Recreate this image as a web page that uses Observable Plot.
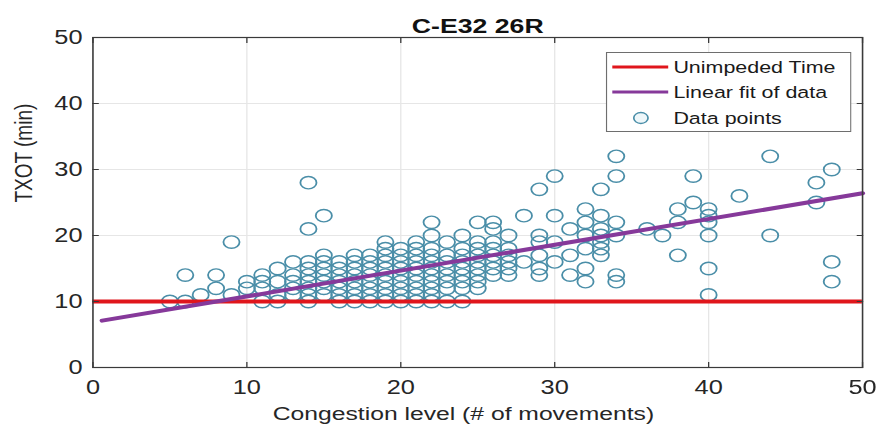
<!DOCTYPE html>
<html>
<head>
<meta charset="utf-8">
<script src="https://cdn.jsdelivr.net/npm/d3@7"></script>
<script src="https://cdn.jsdelivr.net/npm/@observablehq/plot@0.6"></script>
<style>
  html, body { margin: 0; padding: 0; background: #fff; }
  #wrap { position: relative; width: 676px; height: 434px; transform: scaleX(1.3); transform-origin: 0 0; }
  #legend { position: absolute; left: 466px; top: 52px; }
</style>
</head>
<body>
<div id="wrap"></div>
<script>
// Congestion level (x) and the taxi-out times observed at each level (y, minutes)
const congestionLevels = [5, 6, 7, 8, 9, 10, 11, 12, 13, 14, 15, 16, 17, 18, 19, 20, 21, 22, 23, 24, 25, 26, 27, 28, 29, 30, 31, 32, 33, 34, 36, 37, 38, 39, 40, 42, 44, 47, 48];
const txotByLevel = [
  [10],
  [10, 14],
  [11],
  [12, 14],
  [11, 19],
  [12, 13],
  [10, 12, 13, 14],
  [10, 11, 13, 15],
  [11, 12, 13, 14, 16],
  [10, 11, 12, 13, 14, 15, 16, 21, 28],
  [11, 12, 13, 14, 15, 16, 17, 23],
  [10, 11, 12, 13, 14, 15, 16],
  [10, 11, 12, 13, 14, 15, 16, 17],
  [10, 11, 12, 13, 14, 15, 16, 17],
  [10, 11, 12, 13, 14, 15, 16, 17, 18, 19],
  [10, 11, 12, 13, 14, 15, 16, 17, 18],
  [10, 11, 12, 13, 14, 15, 16, 17, 18, 19],
  [10, 11, 12, 13, 14, 15, 16, 17, 18, 20, 22],
  [10, 12, 13, 14, 15, 16, 17, 19],
  [10, 12, 13, 14, 15, 16, 17, 18, 20],
  [12, 13, 14, 15, 16, 17, 18, 19, 22],
  [14, 15, 16, 17, 18, 19, 21, 22],
  [14, 15, 16, 17, 18, 20],
  [16, 23],
  [14, 15, 17, 19, 20, 27],
  [16, 19, 23, 29],
  [14, 17, 21],
  [13, 15, 18, 20, 22, 24],
  [17, 18, 19, 20, 21, 23, 27],
  [13, 14, 20, 22, 29, 32],
  [21],
  [20],
  [17, 22, 24],
  [25, 29],
  [11, 15, 20, 22, 23, 24],
  [26],
  [20, 32],
  [25, 28],
  [13, 16, 30]
];

// Unimpeded taxi-out time and the end points of the least-squares fit
const unimpededTime = 10;
const fitLevels = [0.6, 50];
const fitTxot = [7.1, 26.4];

const xTicks = [0, 10, 20, 30, 40, 50];
const yTicks = [0, 10, 20, 30, 40, 50];
const titleText = "C-E32 26R";
const xLabel = "Congestion level (# of movements)";
const yLabel = "TXOT (min)";
const legendLabels = ["Unimpeded Time", "Linear fit of data", "Data points"];

const RED = "#e0161c";
const PURPLE = "#86399a";
const DOT = "#4a8ea8";
const AXIS = "#3a3a3a";
const FONT = "'Liberation Sans', Arial, Helvetica, sans-serif";

const points = congestionLevels.flatMap((x, i) => txotByLevel[i].map(y => ({x, y})));
const fit = fitLevels.map((x, i) => ({x, y: fitTxot[i]}));

const chart = Plot.plot({
  width: 676,
  height: 434,
  marginLeft: 71,
  marginRight: 13,
  marginTop: 37,
  marginBottom: 67,
  x: {domain: [0, 50]},
  y: {domain: [0, 50]},
  style: {fontFamily: FONT, fontSize: "19px", color: "#262626", background: "#fff", overflow: "visible"},
  marks: [
    Plot.gridX(xTicks, {stroke: "#e6e6e6", strokeOpacity: 1}),
    Plot.gridY(yTicks, {stroke: "#e6e6e6", strokeOpacity: 1}),
    Plot.dot(points, {x: "x", y: "y", r: 6.2, stroke: DOT, strokeWidth: 1.4, fill: "none"}),
    Plot.ruleY([unimpededTime], {stroke: RED, strokeWidth: 4}),
    Plot.line(fit, {x: "x", y: "y", stroke: PURPLE, strokeWidth: 4}),
    Plot.frame({stroke: AXIS, strokeWidth: 1.2}),
    // inward tick marks on all four sides
    Plot.axisX(xTicks, {anchor: "bottom", tickSize: -5, fill: "none", stroke: AXIS, label: null}),
    Plot.axisX(xTicks, {anchor: "top", tickSize: -5, fill: "none", stroke: AXIS, label: null}),
    Plot.axisY(yTicks, {anchor: "left", tickSize: -5, fill: "none", stroke: AXIS, label: null}),
    Plot.axisY(yTicks, {anchor: "right", tickSize: -5, fill: "none", stroke: AXIS, label: null}),
    // tick labels
    Plot.axisX(xTicks, {anchor: "bottom", tickSize: 0, tickPadding: 13, label: null, fill: "#262626", fontSize: 19.5}),
    Plot.axisY(yTicks, {anchor: "left", tickSize: 0, tickPadding: 8, label: null, fill: "#262626", fontSize: 19.5}),
    // axis titles and chart title
    Plot.text([xLabel], {frameAnchor: "bottom", dx: -11, dy: 52, fontSize: 19, fill: "#262626"}),
    Plot.text([yLabel], {frameAnchor: "left", dx: -53, rotate: -90, fontSize: 19, fill: "#262626"}),
    Plot.text([titleText], {frameAnchor: "top", dy: -19, fontSize: 20.5, fontWeight: "bold", fill: "#111"})
  ]
});

const wrap = document.getElementById("wrap");
wrap.appendChild(chart);

// legend box drawn over the upper-right of the axes
const lw = 189, lh = 80;
const legend = d3.create("svg")
  .attr("id", "legend")
  .attr("width", lw)
  .attr("height", lh)
  .style("font-family", FONT)
  .style("font-size", "16.5px");
legend.append("rect")
  .attr("x", 0.5).attr("y", 0.5).attr("width", lw - 1).attr("height", lh - 1)
  .attr("fill", "#fff").attr("stroke", "#6e6e6e").attr("stroke-width", 1);
const rowsY = [15, 40, 66];
legend.append("line").attr("x1", 5).attr("x2", 48).attr("y1", rowsY[0]).attr("y2", rowsY[0])
  .attr("stroke", RED).attr("stroke-width", 3);
legend.append("line").attr("x1", 5).attr("x2", 48).attr("y1", rowsY[1]).attr("y2", rowsY[1])
  .attr("stroke", PURPLE).attr("stroke-width", 3);
legend.append("circle").attr("cx", 27).attr("cy", rowsY[2]).attr("r", 5.5)
  .attr("fill", "#eef7fa").attr("stroke", DOT).attr("stroke-width", 1.3);
legend.selectAll("text.lab").data(legendLabels).join("text")
  .attr("class", "lab")
  .attr("x", 52)
  .attr("y", (d, i) => rowsY[i])
  .attr("dy", "0.35em")
  .attr("fill", "#1a1a1a")
  .text(d => d);
wrap.appendChild(legend.node());
</script>
</body>
</html>
